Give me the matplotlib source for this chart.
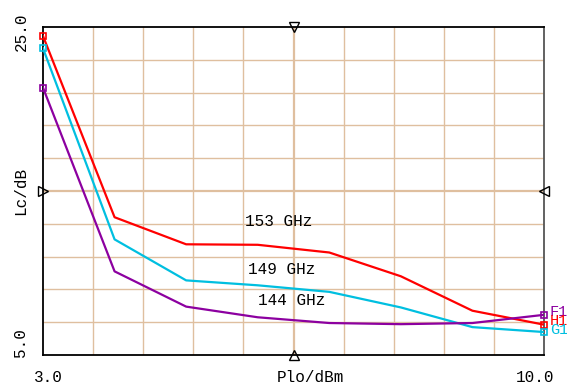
import matplotlib
matplotlib.use("Agg")
import matplotlib.pyplot as plt
import numpy as np

plo = [3, 4, 5, 6, 7, 8, 9, 10]
lc_153 = [24.45, 13.4, 11.75, 11.72, 11.25, 9.8, 7.7, 6.85]
lc_149 = [23.7, 12.05, 9.55, 9.25, 8.85, 7.9, 6.7, 6.4]
lc_144 = [21.3, 10.1, 7.95, 7.3, 6.95, 6.88, 6.95, 7.45]

series_labels = ["153 GHz", "149 GHz", "144 GHz"]
end_labels = ["H1", "G1", "F1"]
colors = ["#ff0000", "#00bfe0", "#8c00a0"]
xlim = (3.0, 10.0)
ylim = (5.0, 25.0)

FONT = "Liberation Mono"
grid_c = "#dfbf9f"

fig = plt.figure(figsize=(5.67, 3.88), dpi=100)
ax = fig.add_axes([43/567, 33/388, 501/567, 328/388])
ax.set_xlim(*xlim)
ax.set_ylim(*ylim)

# grid
for i in range(1, 10):
    x = xlim[0] + i*(xlim[1]-xlim[0])/10
    ax.axvline(x, color=grid_c, lw=1.6 if i == 5 else 1.0, zorder=1)
    y = ylim[0] + i*(ylim[1]-ylim[0])/10
    ax.axhline(y, color=grid_c, lw=1.6 if i == 5 else 1.0, zorder=1)

for vals, c in zip([lc_153, lc_149, lc_144], colors):
    ax.plot(plo, vals, color=c, lw=1.6, zorder=3)
    ax.plot([plo[0], plo[-1]], [vals[0], vals[-1]], ls="none", marker="s",
            ms=5, mfc="none", mec=c, mew=1.2, zorder=4, clip_on=False)

# in-plot labels
ax.text(6.30, 13.11, series_labels[0], family=FONT, fontsize=11.5, ha="center", va="center")
ax.text(6.34, 10.24, series_labels[1], family=FONT, fontsize=11.5, ha="center", va="center")
ax.text(6.47, 8.35, series_labels[2], family=FONT, fontsize=11.5, ha="center", va="center")

# end labels at right
ax.text(10.08, 7.6, end_labels[2], color=colors[2], family=FONT, fontsize=11, va="center", ha="left", clip_on=False)
ax.text(10.08, 7.05, end_labels[0], color=colors[0], family=FONT, fontsize=11, va="center", ha="left", clip_on=False)
ax.text(10.08, 6.5, end_labels[1], color=colors[1], family=FONT, fontsize=11, va="center", ha="left", clip_on=False)

ax.set_xticks([])
ax.set_yticks([])
for s in ax.spines.values():
    s.set_color("black")
    s.set_linewidth(1.3)
ax.spines["right"].set_color("#555555")

# triangle markers on frame
tri = dict(ls="none", ms=6.5, mfc="none", mec="black", mew=1.0, clip_on=False, zorder=5)
ax.plot([6.5], [25.0], marker="v", **tri)
ax.plot([6.5], [5.0], marker="^", **tri)
ax.plot([3.0], [15.0], marker=">", **tri)
ax.plot([10.0], [15.0], marker="<", **tri)

# axis labels and tick texts
fig.text(21/567, 1-32/388, "25.0", rotation=90, family=FONT, fontsize=11.5, ha="center", va="center")
fig.text(21/567, 1-343/388, "5.0", rotation=90, family=FONT, fontsize=11.5, ha="center", va="center")
fig.text(21/567, 1-191/388, "Lc/dB", rotation=90, family=FONT, fontsize=11.5, ha="center", va="center")
fig.text(48/567, 1-378/388, "3.0", family=FONT, fontsize=11.5, ha="center", va="center")
fig.text(535/567, 1-377/388, "10.0", family=FONT, fontsize=11.5, ha="center", va="center")
fig.text(310/567, 1-377/388, "Plo/dBm", family=FONT, fontsize=11.5, ha="center", va="center")

fig.savefig("out.png", dpi=100)
